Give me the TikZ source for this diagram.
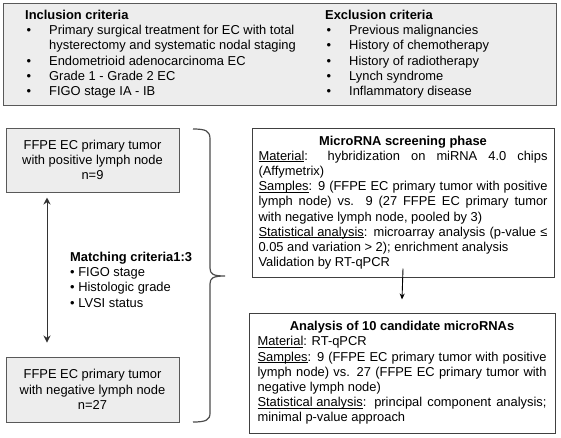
\documentclass[tikz,border=0pt]{standalone}
\usepackage{fontspec}
\setmainfont{Liberation Sans}
\usepackage{tikz}
\usetikzlibrary{arrows.meta, shadows}
\setlength{\parindent}{0pt}
\newcommand{\critem}[1]{\makebox[24pt][l]{\hspace{1.5pt}\textbullet}#1}
\newcommand{\ulword}[1]{\leavevmode\setbox0\hbox{#1}\rlap{\rule[-1.7pt]{\wd0}{0.7pt}}\box0}

\tikzset{
    graybox/.style={draw=black!65, line width=1pt, fill=black!7,
        drop shadow={shadow xshift=1.2pt, shadow yshift=-1.2pt, fill=black!60, opacity=0.8}},
    whitebox/.style={draw=black!75, line width=1pt, fill=white, text width=289pt,
        align=justify, inner xsep=6.5pt},
    listtext/.style={anchor=north west, inner sep=0pt, align=left},
    bracestyle/.style={draw=black!70, line width=1.2pt}
}

\begin{document}
\begin{tikzpicture}[x=1pt, y=-1pt, every node/.style={font=\fontsize{12.9pt}{15.2pt}\selectfont}]
        \useasboundingbox (0,0) rectangle (561,437);
        % Inclusion and exclusion criteria
        \node[graybox, minimum width=553pt, minimum height=102pt] (criteria) at (279.5,54) {};
        \node[listtext] (incl) at (25,10) {\textbf{Inclusion criteria}\\
            \critem{Primary surgical treatment for EC with total}\\
            \hspace*{24pt}hysterectomy and systematic nodal staging\\
            \critem{Endometrioid adenocarcinoma EC}\\
            \critem{Grade 1 - Grade 2 EC}\\
            \critem{FIGO stage IA - IB}};
        \node[listtext] (excl) at (325,10) {\textbf{Exclusion criteria}\\
            \critem{Previous malignancies}\\
            \critem{History of chemotherapy}\\
            \critem{History of radiotherapy}\\
            \critem{Lynch syndrome}\\
            \critem{Inflammatory disease}};
        % Lymph node groups
        \node[graybox, minimum width=173pt, minimum height=64pt, align=center] (pos) at (92.5,160) {FFPE EC primary tumor\\with positive lymph node\\n=9};
        \node[graybox, minimum width=173pt, minimum height=65pt, align=center] (neg) at (92.5,389.5) {FFPE EC primary tumor\\with negative lymph node\\n=27};
        \draw[{Stealth[length=7pt,width=7pt]}-{Stealth[length=7pt,width=7pt]}, line width=0.9pt, black!80] ([xshift=-45.5pt,yshift=-5pt]pos.south) -- ([xshift=-45.5pt,yshift=14pt]neg.north);
        \node[listtext] (match) at (70,252) {\textbf{Matching criteria1:3}\\
            \textbullet\ FIGO stage\\
            \textbullet\ Histologic grade\\
            \textbullet\ LVSI status};
        % Brace
        \draw[bracestyle] (193,129) .. controls (206,129) and (210,131) .. (210,139) -- (210,268)
            .. controls (210,274) and (213,276) .. (225,276)
            .. controls (213,276) and (210,278) .. (210,284) -- (210,413)
            .. controls (210,420) and (206,422) .. (193,422);
        % Screening and validation
        \node[whitebox, minimum height=149pt] (screen) at (403,202.5) {{\centering\textbf{MicroRNA screening phase}\par}
            \ulword{Material}: hybridization on miRNA 4.0 chips\linebreak
            (Affymetrix)\par
            \ulword{Samples}: 9 (FFPE EC primary tumor with positive\linebreak
            lymph node) vs. 9 (27 FFPE EC primary tumor\linebreak
            with negative lymph node, pooled by 3)\par
            \ulword{Statistical analysis}: microarray analysis (p-value ≤\linebreak
            0.05 and variation > 2); enrichment analysis\par
            Validation by RT-qPCR};
        \node[whitebox, minimum width=306pt, minimum height=120pt] (cand) at (402,373) {{\centering\textbf{Analysis of 10 candidate microRNAs}\par}
            \ulword{Material}: RT-qPCR\par
            \ulword{Samples}: 9 (FFPE EC primary tumor with positive\linebreak
            lymph node) vs. 27 (FFPE EC primary tumor with\linebreak
            negative lymph node)\par
            \ulword{Statistical analysis}: principal component analysis;\linebreak
            minimal p-value approach};
        \draw[-{Stealth[length=6pt,width=5pt]}, line width=0.9pt] ([yshift=9pt]screen.south) -- ([yshift=13pt]cand.north);
    \end{tikzpicture}
\end{document}
